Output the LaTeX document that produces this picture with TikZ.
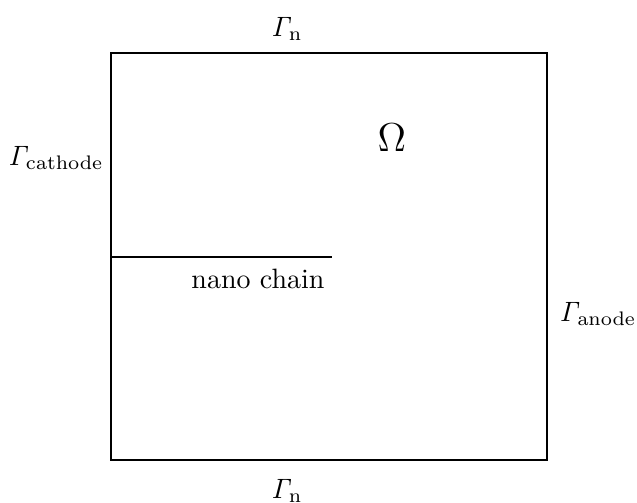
\documentclass[tikz,border=0pt]{standalone}
\tikzset{
  boundary/.style={line width=1.05pt},
  bclabel/.style={inner sep=0pt},
  domainlabel/.style={inner sep=0pt, font=\Large}
}
\begin{document}
\begin{tikzpicture}[x=0.357pt, y=-0.357pt]
  \useasboundingbox (0,0) rectangle (637,503);
  \coordinate (corner0) at (111,53);
  \coordinate (corner1) at (547,460);
  \draw[boundary] (corner0) rectangle (corner1);
  \coordinate (chainstart) at (111,257);
  \coordinate (chainend) at (332,257);
  \draw[boundary] (chainstart) -- (chainend);
  \node[bclabel] (gammatop) at (287,29) {$\mathit{\Gamma}_{\mathrm{n}}$};
  \node[bclabel] (gammabottom) at (287,491) {$\mathit{\Gamma}_{\mathrm{n}}$};
  \node[bclabel] (gammacathode) at (56,158) {$\mathit{\Gamma}_{\mathrm{cathode}}$};
  \node[bclabel] (gammaanode) at (598,314) {$\mathit{\Gamma}_{\mathrm{anode}}$};
  \node[domainlabel] (omega) at (392,138) {$\Omega$};
  \node[bclabel, anchor=base] (chainlabel) at (258,288) {nano chain};
\end{tikzpicture}
\end{document}
